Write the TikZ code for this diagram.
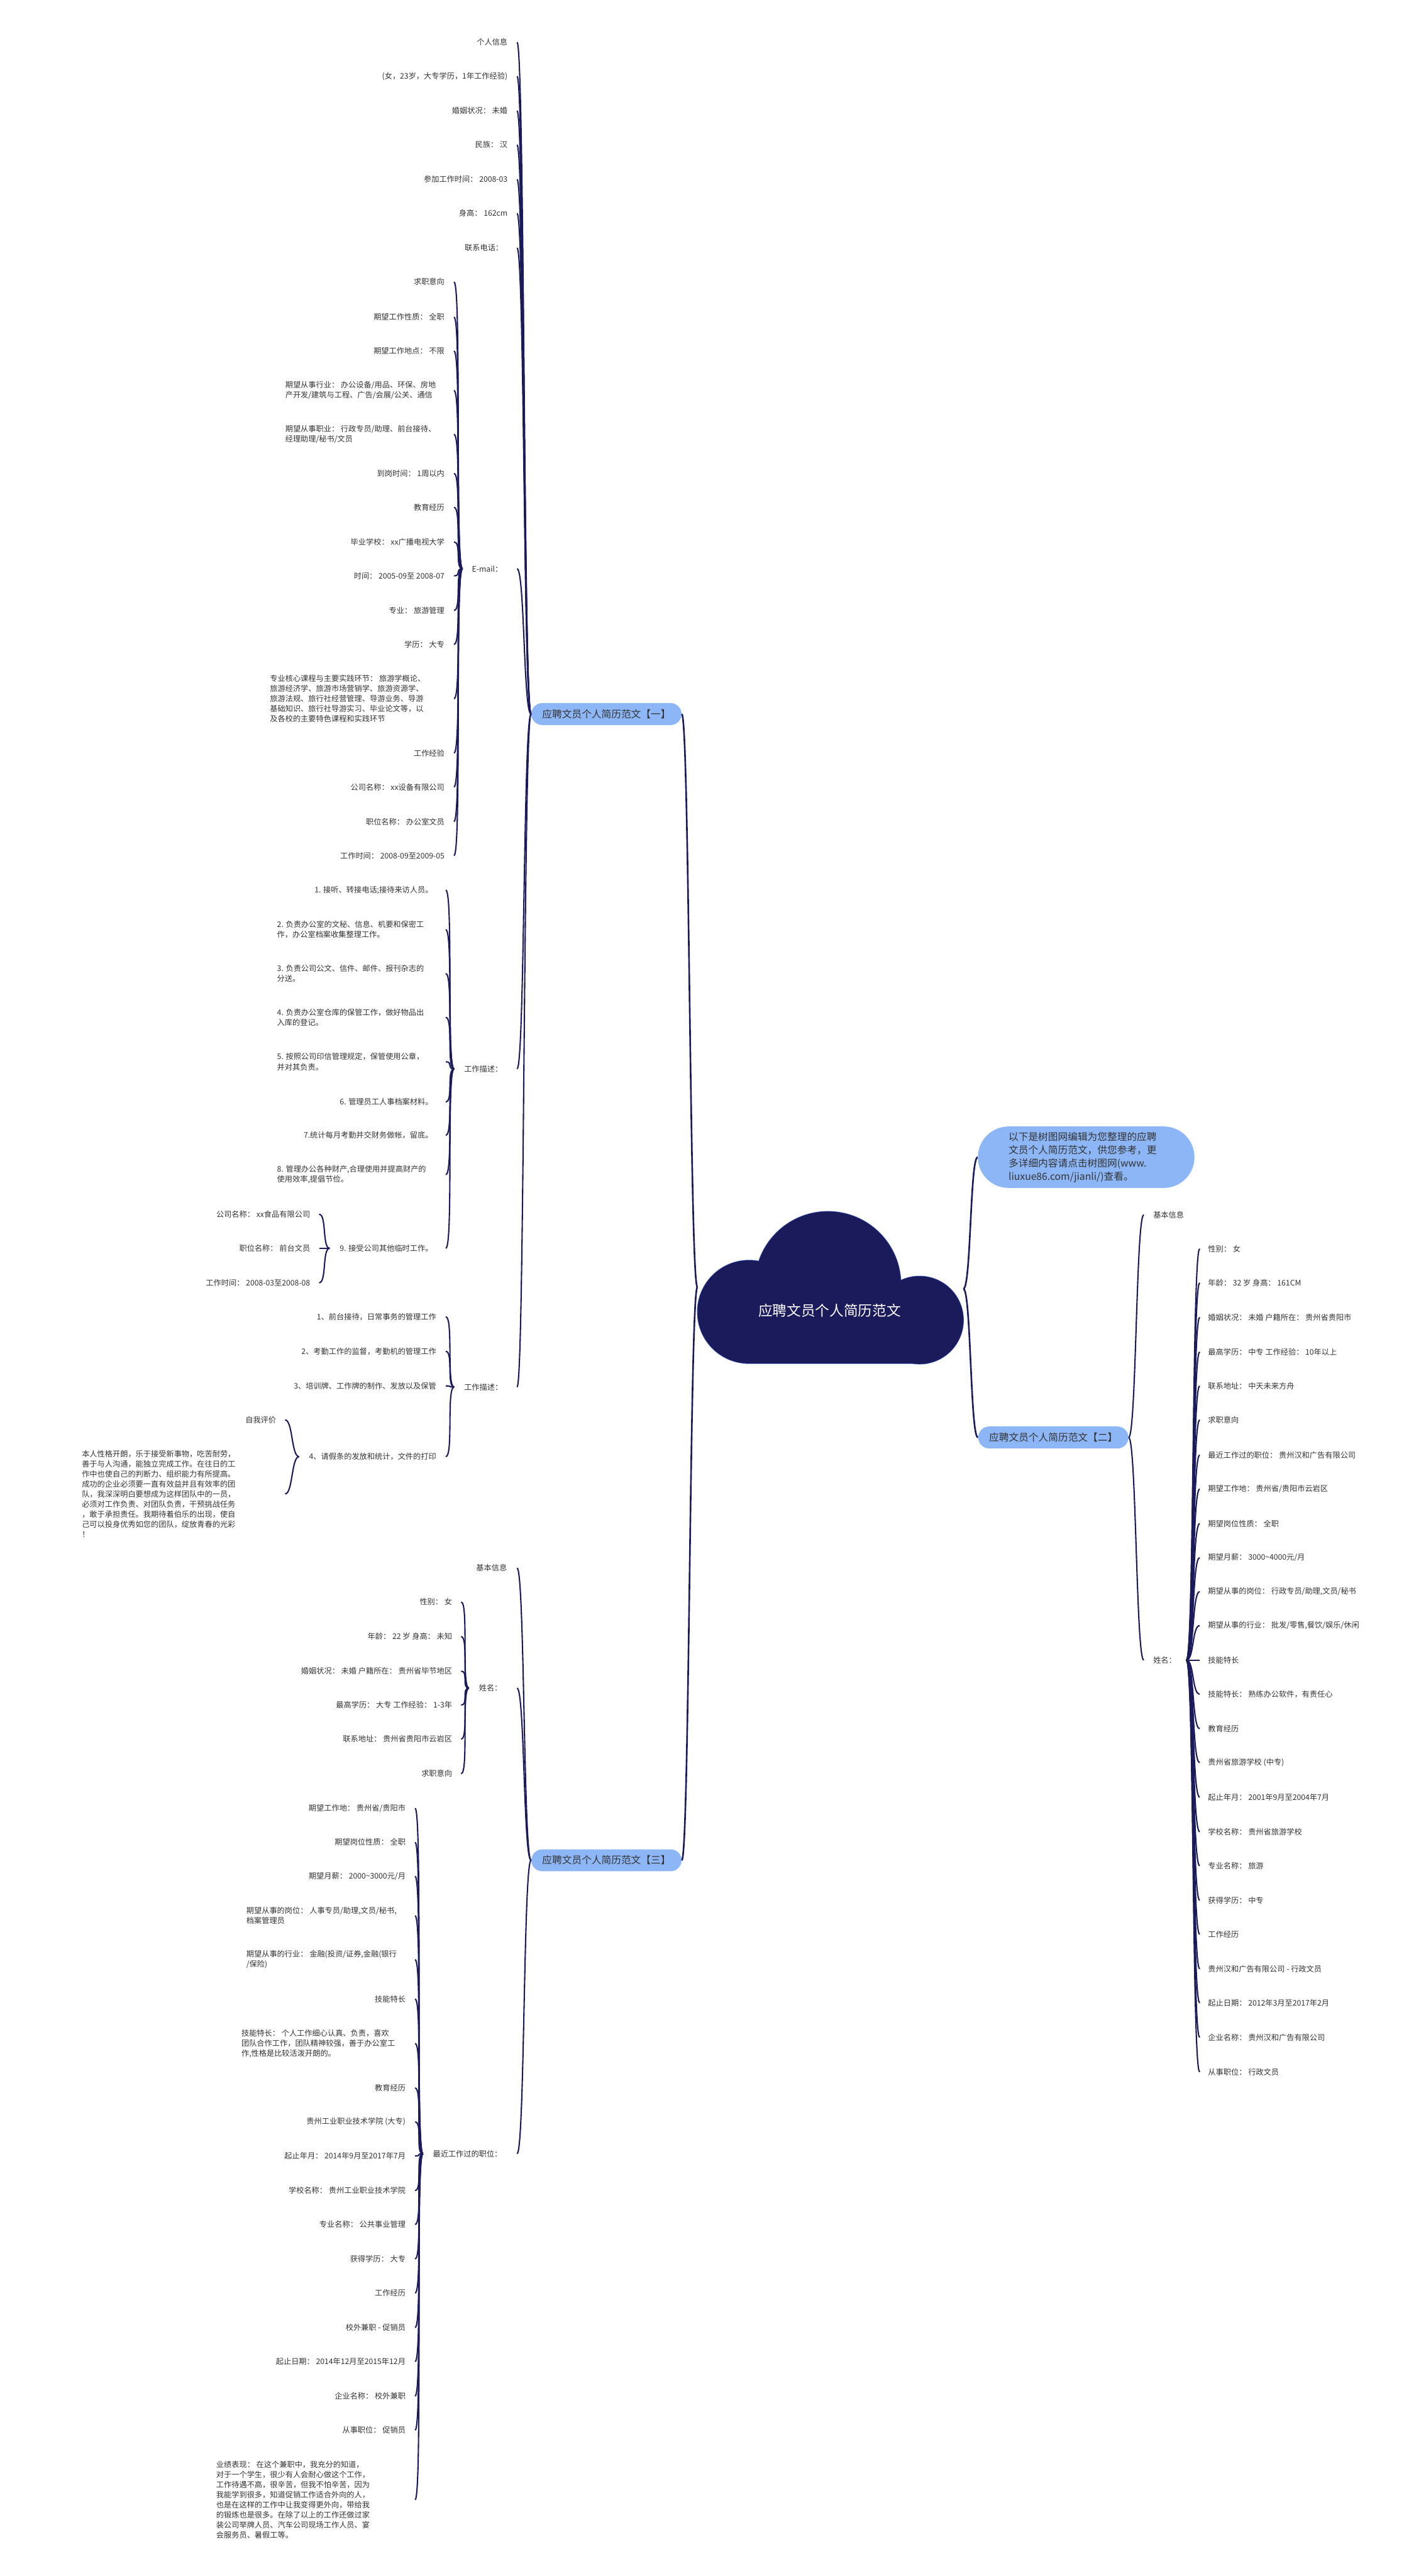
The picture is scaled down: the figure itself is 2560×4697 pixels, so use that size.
\documentclass[tikz,border=0pt]{standalone}
\usepackage{fontspec}
\setmainfont{Noto Sans CJK SC}
\definecolor{rsNavy}{HTML}{1B1B5C}
\definecolor{rsBlue}{HTML}{8DB6F7}
\definecolor{rsText}{HTML}{333333}
\definecolor{rsEdge}{HTML}{3D5FC4}

\begin{document}
\begin{tikzpicture}[x=0.5pt,y=-0.5pt]
\tikzset{
    rsLeaf/.style={font=\fontsize{7}{9.2}\selectfont,text=rsText,inner sep=0pt,anchor=east},
    rsLeafR/.style={rsLeaf,anchor=west},
    rsPara/.style={rsLeaf,anchor=west,align=left},
    rsBranch/.style={fill=rsBlue,rounded corners=10pt,minimum height=20pt,inner xsep=10pt,inner ysep=0pt,font=\fontsize{9}{11}\selectfont,text=rsText},
    rsLink/.style={draw=rsNavy,line width=1.2pt},
    rsTrunk/.style={draw=rsNavy,line width=1.5pt},
    rsToL/.style={to path={.. controls +(-14,0) and +(14,0) .. (\tikztotarget)}},
    rsToR/.style={to path={.. controls +(14,0) and +(-14,0) .. (\tikztotarget)}},
}
\fill[white] (0,0) rectangle (2560,4697);
\useasboundingbox (0,0) rectangle (2560,4697);

% cloud
\draw[rsEdge,line width=0.8pt] (1366,2392) circle (94) (1510,2342) circle (133) (1677,2407) circle (80) (1366,2342) rectangle (1677,2486);
\fill[rsNavy] (1366,2392) circle (94);
\fill[rsNavy] (1510,2342) circle (133);
\fill[rsNavy] (1677,2407) circle (80);
\fill[rsNavy] (1366,2342) rectangle (1677,2486);
\node[font=\fontsize{13}{15}\selectfont,text=white] (root) at (1513,2390) {应聘文员个人简历范文};
\coordinate (rootL) at (1272,2347);
\coordinate (rootR) at (1757,2350);

% line ends
\coordinate (xA) at (943,0);
\coordinate (xM) at (828,0);
\coordinate (xW) at (813,0);
\coordinate (xN) at (582,0);
\coordinate (xP) at (520,0);
\coordinate (xS) at (841,0);
\coordinate (xR) at (757,0);
\coordinate (xB) at (2086,0);
\coordinate (xZ) at (2188,0);

% branches
\node[rsBranch] (b1) at (1106,1302) {应聘文员个人简历范文【一】};
\node[rsBranch] (b3) at (1106,3392) {应聘文员个人简历范文【三】};
\node[rsBranch] (b2) at (1921,2621) {应聘文员个人简历范文【二】};
\node[rsBranch,rounded corners=28pt,minimum width=197.5pt,minimum height=56pt,text width=141.5pt,inner xsep=28pt,align=left,font=\fontsize{9}{12}\selectfont] (intro) at (1981,2110) {以下是树图网编辑为您整理的应聘\\文员个人简历范文，供您参考，更\\多详细内容请点击树图网(www.\\liuxue86.com/jianli/)查看。};

% branch one
\node[rsLeaf] (a1) at (926,77) {个人信息};
\node[rsLeaf] (a2) at (926,139) {(女，23岁，大专学历，1年工作经验)};
\node[rsLeaf] (a3) at (926,202) {婚姻状况： 未婚};
\node[rsLeaf] (a4) at (926,264) {民族： 汉};
\node[rsLeaf] (a5) at (926,327) {参加工作时间： 2008-03};
\node[rsLeaf] (a6) at (926,389) {身高： 162cm};
\node[rsLeaf] (a7) at (918,452) {联系电话：};
\node[rsLeaf] (am) at (917,1037) {E-mail：};
\node[rsLeaf] (aw1) at (917,1949) {工作描述：};
\node[rsLeaf] (aw2) at (917,2529) {工作描述：};

\node[rsLeaf] (m1) at (811,514) {求职意向};
\node[rsLeaf] (m2) at (811,578) {期望工作性质： 全职};
\node[rsLeaf] (m3) at (811,640) {期望工作地点： 不限};
\node[rsPara] (m4) at (520,712) {期望从事行业： 办公设备/用品、环保、房地\\产开发/建筑与工程、广告/会展/公关、通信};
\node[rsPara] (m5) at (520,792) {期望从事职业： 行政专员/助理、前台接待、\\经理助理/秘书/文员};
\node[rsLeaf] (m6) at (811,863) {到岗时间： 1周以内};
\node[rsLeaf] (m7) at (811,925) {教育经历};
\node[rsLeaf] (m8) at (811,988) {毕业学校： xx广播电视大学};
\node[rsLeaf] (m9) at (811,1050) {时间： 2005-09至 2008-07};
\node[rsLeaf] (m10) at (811,1113) {专业： 旅游管理};
\node[rsLeaf] (m11) at (811,1175) {学历： 大专};
\node[rsPara] (m12) at (492,1274) {专业核心课程与主要实践环节： 旅游学概论、\\旅游经济学、旅游市场营销学、旅游资源学、\\旅游法规、旅行社经营管理、导游业务、导游\\基础知识、旅行社导游实习、毕业论文等，以\\及各校的主要特色课程和实践环节};
\node[rsLeaf] (m13) at (811,1373) {工作经验};
\node[rsLeaf] (m14) at (811,1435) {公司名称： xx设备有限公司};
\node[rsLeaf] (m15) at (811,1498) {职位名称： 办公室文员};
\node[rsLeaf] (m16) at (811,1560) {工作时间： 2008-09至2009-05};

\node[rsLeaf] (w1) at (790,1623) {1. 接听、转接电话;接待来访人员。};
\node[rsPara] (w2) at (505,1695) {2. 负责办公室的文秘、信息、机要和保密工\\作，办公室档案收集整理工作。};
\node[rsPara] (w3) at (505,1775) {3. 负责公司公文、信件、邮件、报刊杂志的\\分送。};
\node[rsPara] (w4) at (505,1855) {4. 负责办公室仓库的保管工作，做好物品出\\入库的登记。};
\node[rsPara] (w5) at (505,1936) {5. 按照公司印信管理规定，保管使用公章，\\并对其负责。};
\node[rsLeaf] (w6) at (790,2009) {6. 管理员工人事档案材料。};
\node[rsLeaf] (w7) at (790,2070) {7.统计每月考勤并交财务做帐，留底。};
\node[rsPara] (w8) at (505,2142) {8. 管理办公各种财产,合理使用并提高财产的\\使用效率,提倡节俭。};
\node[rsLeaf] (w9) at (790,2276) {9. 接受公司其他临时工作。};
\node[rsLeaf] (n1) at (566,2214) {公司名称： xx食品有限公司};
\node[rsLeaf] (n2) at (566,2276) {职位名称： 前台文员};
\node[rsLeaf] (n3) at (566,2339) {工作时间： 2008-03至2008-08};

\node[rsLeaf] (v1) at (796,2401) {1、前台接待，日常事务的管理工作};
\node[rsLeaf] (v2) at (796,2464) {2、考勤工作的监督，考勤机的管理工作};
\node[rsLeaf] (v3) at (796,2527) {3、培训牌、工作牌的制作、发放以及保管};
\node[rsLeaf] (v4) at (796,2656) {4、请假条的发放和统计，文件的打印};
\node[rsLeaf] (p1) at (504,2589) {自我评价};
\node[rsPara] (p2) at (149,2724) {本人性格开朗，乐于接受新事物，吃苦耐劳，\\善于与人沟通，能独立完成工作。在往日的工\\作中也使自己的判断力、组织能力有所提高。\\成功的企业必须要一直有效益并且有效率的团\\队，我深深明白要想成为这样团队中的一员，\\必须对工作负责、对团队负责，干预挑战任务\\，敢于承担责任。我期待着伯乐的出现，使自\\己可以投身优秀如您的团队，绽放青春的光彩\\！};

% branch three
\node[rsLeaf] (c1) at (925,2859) {基本信息};
\node[rsLeaf] (c2) at (916,3078) {姓名：};
\node[rsLeaf] (c3) at (916,3927) {最近工作过的职位：};

\node[rsLeaf] (s1) at (825,2921) {性别： 女};
\node[rsLeaf] (s2) at (825,2984) {年龄： 22 岁 身高： 未知};
\node[rsLeaf] (s3) at (825,3047) {婚姻状况： 未婚 户籍所在： 贵州省毕节地区};
\node[rsLeaf] (s4) at (825,3109) {最高学历： 大专 工作经验： 1-3年};
\node[rsLeaf] (s5) at (825,3171) {联系地址： 贵州省贵阳市云岩区};
\node[rsLeaf] (s6) at (825,3234) {求职意向};

\node[rsLeaf] (r1) at (740,3297) {期望工作地： 贵州省/贵阳市};
\node[rsLeaf] (r2) at (740,3359) {期望岗位性质： 全职};
\node[rsLeaf] (r3) at (740,3421) {期望月薪： 2000\textasciitilde3000元/月};
\node[rsPara] (r4) at (449,3493) {期望从事的岗位： 人事专员/助理,文员/秘书,\\档案管理员};
\node[rsPara] (r5) at (449,3573) {期望从事的行业： 金融(投资/证券,金融(银行\\/保险)};
\node[rsLeaf] (r6) at (740,3645) {技能特长};
\node[rsPara] (r7) at (440,3726) {技能特长： 个人工作细心认真、负责，喜欢\\团队合作工作，团队精神较强，善于办公室工\\作,性格是比较活泼开朗的。};
\node[rsLeaf] (r8) at (740,3807) {教育经历};
\node[rsLeaf] (r9) at (740,3869) {贵州工业职业技术学院 (大专)};
\node[rsLeaf] (r10) at (740,3931) {起止年月： 2014年9月至2017年7月};
\node[rsLeaf] (r11) at (740,3994) {学校名称： 贵州工业职业技术学院};
\node[rsLeaf] (r12) at (740,4056) {专业名称： 公共事业管理};
\node[rsLeaf] (r13) at (740,4119) {获得学历： 大专};
\node[rsLeaf] (r14) at (740,4181) {工作经历};
\node[rsLeaf] (r15) at (740,4244) {校外兼职 - 促销员};
\node[rsLeaf] (r16) at (740,4306) {起止日期： 2014年12月至2015年12月};
\node[rsLeaf] (r17) at (740,4369) {企业名称： 校外兼职};
\node[rsLeaf] (r18) at (740,4431) {从事职位： 促销员};
\node[rsPara] (r19) at (394,4558) {业绩表现： 在这个兼职中，我充分的知道，\\对于一个学生，很少有人会耐心做这个工作，\\工作待遇不高，很辛苦，但我不怕辛苦，因为\\我能学到很多，知道促销工作适合外向的人，\\也是在这样的工作中让我变得更外向，带给我\\的锻炼也是很多。在除了以上的工作还做过家\\装公司举牌人员、汽车公司现场工作人员、宴\\会服务员、暑假工等。};

% branch two
\node[rsLeafR] (k1) at (2103,2215) {基本信息};
\node[rsLeafR] (k2) at (2103,3027) {姓名：};

\node[rsLeafR] (t1) at (2203,2277) {性别： 女};
\node[rsLeafR] (t2) at (2203,2339) {年龄： 32 岁 身高： 161CM};
\node[rsLeafR] (t3) at (2203,2402) {婚姻状况： 未婚 户籍所在： 贵州省贵阳市};
\node[rsLeafR] (t4) at (2203,2465) {最高学历： 中专 工作经验： 10年以上};
\node[rsLeafR] (t5) at (2203,2527) {联系地址： 中天未来方舟};
\node[rsLeafR] (t6) at (2203,2589) {求职意向};
\node[rsLeafR] (t7) at (2203,2653) {最近工作过的职位： 贵州汉和广告有限公司};
\node[rsLeafR] (t8) at (2203,2715) {期望工作地： 贵州省/贵阳市云岩区};
\node[rsLeafR] (t9) at (2203,2778) {期望岗位性质： 全职};
\node[rsLeafR] (t10) at (2203,2840) {期望月薪： 3000\textasciitilde4000元/月};
\node[rsLeafR] (t11) at (2203,2902) {期望从事的岗位： 行政专员/助理,文员/秘书};
\node[rsLeafR] (t12) at (2203,2964) {期望从事的行业： 批发/零售,餐饮/娱乐/休闲};
\node[rsLeafR] (t13) at (2203,3027) {技能特长};
\node[rsLeafR] (t14) at (2203,3089) {技能特长： 熟练办公软件，有责任心};
\node[rsLeafR] (t15) at (2203,3152) {教育经历};
\node[rsLeafR] (t16) at (2203,3214) {贵州省旅游学校 (中专)};
\node[rsLeafR] (t17) at (2203,3277) {起止年月： 2001年9月至2004年7月};
\node[rsLeafR] (t18) at (2203,3340) {学校名称： 贵州省旅游学校};
\node[rsLeafR] (t19) at (2203,3402) {专业名称： 旅游};
\node[rsLeafR] (t20) at (2203,3465) {获得学历： 中专};
\node[rsLeafR] (t21) at (2203,3527) {工作经历};
\node[rsLeafR] (t22) at (2203,3590) {贵州汉和广告有限公司 - 行政文员};
\node[rsLeafR] (t23) at (2203,3652) {起止日期： 2012年3月至2017年2月};
\node[rsLeafR] (t24) at (2203,3715) {企业名称： 贵州汉和广告有限公司};
\node[rsLeafR] (t25) at (2203,3778) {从事职位： 行政文员};

% connectors
\draw[rsTrunk,rsToL] (rootL) to (b1.east);
\draw[rsTrunk,rsToL] (rootL) to (b3.east);
\draw[rsTrunk,rsToR] (rootR) to (intro.west);
\draw[rsTrunk,rsToR] (rootR) to (b2.west);

\foreach \n in {a1,a2,a3,a4,a5,a6,a7,am,aw1,aw2}
    \draw[rsLink,rsToL] (b1.west) to (\n -| xA);
\foreach \i in {1,...,16}
    \draw[rsLink,rsToL] ([xshift=-8.5pt]am.west) to (m\i -| xM);
\foreach \i in {1,...,9}
    \draw[rsLink,rsToL] ([xshift=-9pt]aw1.west) to (w\i -| xW);
\foreach \i in {1,2,3}
    \draw[rsLink,rsToL] ([xshift=-9pt]w9.west) to (n\i -| xN);
\foreach \i in {1,...,4}
    \draw[rsLink,rsToL] ([xshift=-9pt]aw2.west) to (v\i -| xW);
\foreach \i in {1,2}
    \draw[rsLink,rsToL] ([xshift=-9pt]v4.west) to (p\i -| xP);

\foreach \n in {c1,c2,c3}
    \draw[rsLink,rsToL] (b3.west) to (\n -| xA);
\foreach \i in {1,...,6}
    \draw[rsLink,rsToL] ([xshift=-9pt]c2.west) to (s\i -| xS);
\foreach \i in {1,...,19}
    \draw[rsLink,rsToL] ([xshift=-9pt]c3.west) to (r\i -| xR);

\foreach \n in {k1,k2}
    \draw[rsLink,rsToR] (b2.east) to (\n -| xB);
\foreach \i in {1,...,25}
    \draw[rsLink,rsToR] ([xshift=9pt]k2.east) to (t\i -| xZ);
\end{tikzpicture}
\end{document}
